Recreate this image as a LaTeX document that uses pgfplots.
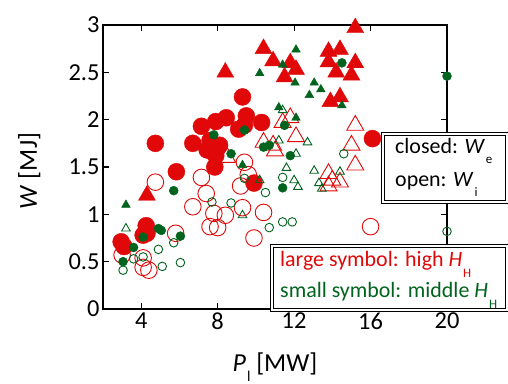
\documentclass[border=0pt]{standalone}
\usepackage{fontspec}
\setmainfont{Carlito}
\usepackage{pgfplots}
\pgfplotsset{compat=1.18}
\definecolor{myred}{RGB}{224,8,8}
\definecolor{mygreen}{RGB}{0,100,30}
\newcommand{\lsub}[3][10bp]{\kern1bp\raisebox{-#1}{\fontsize{#2}{#2}\selectfont #3}}
\begin{document}
\begin{tikzpicture}
\useasboundingbox (-103bp,-75bp) rectangle (405bp,309bp);
\begin{axis}[
  at={(0,0)}, anchor=south west,
  scale only axis, width=344bp, height=284bp,
  xmin=2, xmax=20, ymin=0, ymax=3,
  xtick={4,8,12,16,20}, ytick={0,0.5,1,1.5,2,2.5,3},
  tick label style={font=\fontsize{24.5}{28}\selectfont},
  /pgf/number format/assume math mode=true,
  axis line style={line width=1.2bp},
  major tick style={line width=1.2bp, black},
  major tick length=6bp,
  clip=false,
  xlabel={\textit{P}\lsub[10bp]{15}{l} [MW]},
  xlabel style={at={(axis description cs:0.5,0)}, anchor=base, yshift=-62bp, font=\fontsize{26}{30}\selectfont},
  ylabel={\textit{W} [MJ]},
  ylabel style={at={(axis description cs:-0.1919,0.486)}, anchor=base, rotate=0, font=\fontsize{26}{30}\selectfont},
]
% red open circles (W_i, high H_H)
\addplot[only marks, mark=o, mark size=8.3bp, mark options={draw=myred, line width=0.9bp, fill=none}] coordinates {
(4.74,1.34) (7.15,1.39) (7.4,1.22) (9.2,1.30) (9.4,1.55) (9.6,1.42) (6.7,1.08) (7.8,1.01)
(8.4,0.99) (7.6,0.87) (8.0,0.86) (9.3,1.07) (9.9,0.75) (5.8,0.80) (10.4,1.02) (3.0,0.57)
(4.1,0.44) (4.4,0.41) (4.1,0.54) (16.0,0.87)
};
% red open triangles
\addplot[only marks, mark=triangle, mark size=9.8bp, mark options={draw=myred, line width=0.9bp, fill=none}] coordinates {
(8.5,1.60) (10.4,1.76) (10.9,1.73) (11.0,1.67) (11.4,1.97) (11.8,2.02) (12.1,1.82) (15.2,1.94)
(15.0,1.73) (15.2,1.52) (13.8,1.43) (14.0,1.36) (14.4,1.34) (13.8,1.30)
};
% red filled circles (W_e, high H_H)
\addplot[only marks, mark=*, mark size=8.5bp, mark options={draw=myred, fill=myred}] coordinates {
(4.74,1.75) (5.84,1.45) (7.15,1.93) (7.9,1.98) (8.45,2.02) (9.5,2.04) (9.3,2.24) (10.3,1.97)
(6.7,1.75) (7.6,1.78) (7.45,1.68) (7.9,1.62) (7.85,1.50) (9.1,1.90) (9.4,1.94) (8.1,1.73)
(9.9,1.33) (16.1,1.80) (4.26,0.88) (4.1,0.78) (2.95,0.71) (3.1,0.66) (4.3,0.80)
};
% red filled triangles
\addplot[only marks, mark=triangle*, mark size=9.8bp, mark options={draw=myred, fill=myred}] coordinates {
(4.3,1.20) (8.4,2.50) (10.4,2.75) (10.9,2.62) (11.8,2.60) (12.1,2.53) (11.5,2.45) (13.8,2.72)
(14.4,2.74) (13.8,2.61) (15.2,2.60) (14.2,2.50) (15.0,2.47) (13.9,2.19) (14.4,2.24) (15.2,2.97)
};
% green open circles (W_i, middle H_H)
\addplot[only marks, mark=o, mark size=4.3bp, mark options={draw=mygreen, line width=0.9bp, fill=none}] coordinates {
(9.4,1.38) (14.6,1.64) (11.4,1.39) (10.5,1.23) (8.7,1.12) (7.7,1.13) (10.7,0.86) (11.4,0.92)
(11.9,0.92) (5.7,0.70) (6.05,0.49) (4.9,0.63) (5.1,0.45) (4.1,0.55) (3.6,0.53) (3.05,0.41) (20,0.82)
};
% green open triangles
\addplot[only marks, mark=triangle, mark size=5bp, mark options={draw=mygreen, line width=0.9bp, fill=none}] coordinates {
(11.4,2.10) (11.2,1.78) (12.7,1.76) (11.6,1.49) (13.05,1.46) (12.0,1.36) (12.2,1.29) (14.4,1.45)
(13.3,1.33) (13.45,1.27) (12.1,1.64) (10.2,1.36) (9.3,0.99) (3.2,0.85)
};
% green filled circles (W_e, middle H_H)
\addplot[only marks, mark=*, mark size=4.5bp, mark options={draw=mygreen, fill=mygreen}] coordinates {
(7.8,1.84) (9.4,1.89) (8.7,1.64) (5.7,1.25) (14.5,2.60) (20,2.46) (11.5,1.94) (10.4,1.71)
(10.7,1.73) (11.8,1.62) (11.4,1.28) (4.9,0.85) (5.05,0.83) (4.1,0.76) (6.05,0.77) (3.6,0.65) (3.05,0.50)
};
% green filled triangles
\addplot[only marks, mark=triangle*, mark size=5bp, mark options={draw=mygreen, fill=mygreen}] coordinates {
(12.1,2.74) (11.4,2.58) (10.2,2.49) (12.05,2.39) (13.05,2.39) (13.4,2.32) (12.8,2.26) (11.2,2.13)
(12.1,2.02) (14.5,2.15) (3.2,1.10) (9.3,1.52)
};
\end{axis}
\begin{scope}[font=\fontsize{22}{26}\selectfont]
\draw[fill=white, line width=0.8bp, double=white, double distance=2bp] (280bp,107bp) rectangle (404bp,175bp);
\node[anchor=base west, inner sep=0pt] at (292bp,155bp) {closed: \textit{W}\lsub[10bp]{13}{e}};
\node[anchor=base west, inner sep=0pt] at (292bp,122bp) {open: \textit{W}\lsub[10bp]{13}{i}};
\draw[fill=white, line width=0.8bp, double=white, double distance=2bp] (169bp,-1bp) rectangle (404bp,63bp);
\node[anchor=base west, inner sep=0pt, text=myred] at (177bp,42bp) {large symbol: high \textit{H}\lsub[11bp]{13}{H}};
\node[anchor=base west, inner sep=0pt, text=mygreen] at (177bp,12bp) {small symbol: middle \textit{H}\lsub[11bp]{13}{H}};
\end{scope}
\end{tikzpicture}
\end{document}
